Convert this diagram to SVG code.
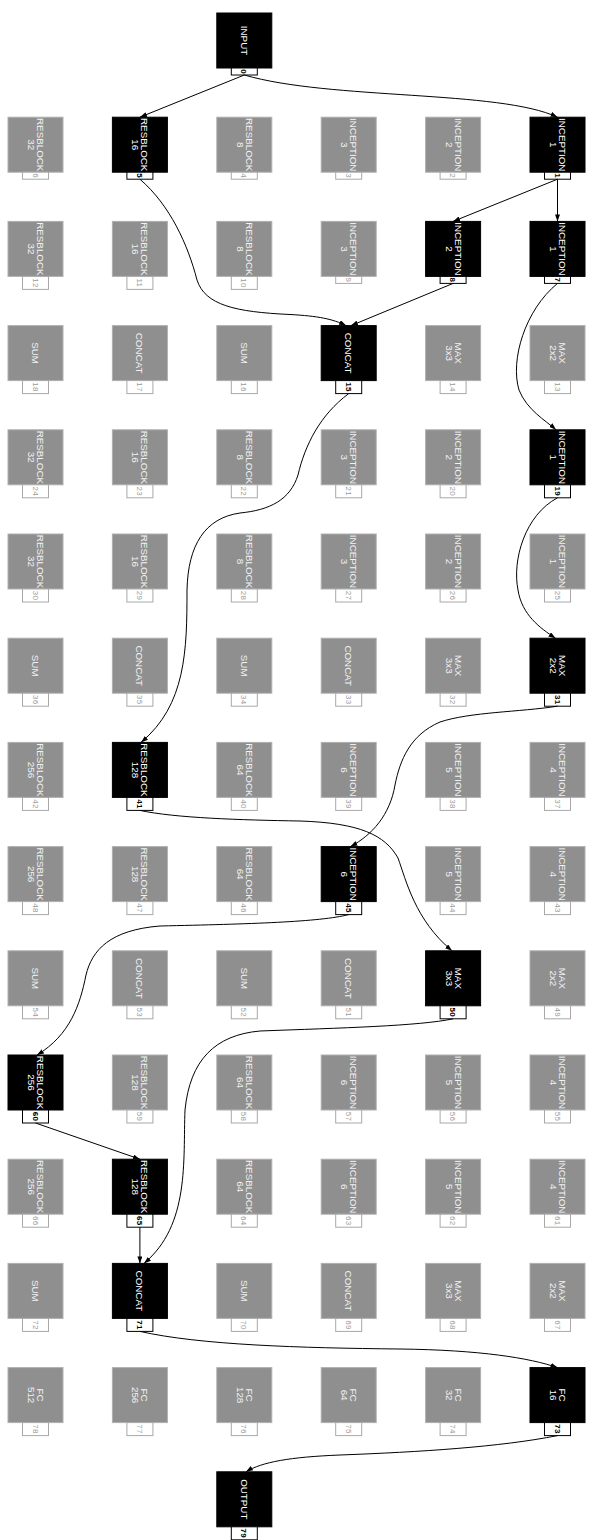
<svg xmlns="http://www.w3.org/2000/svg" width="589" height="1540" viewBox="0 0 589 1540">
<style>
.g .b{fill:#8f8f8f;stroke:#b0b0b0;stroke-width:1}
.k .b{fill:#000;stroke:#000;stroke-width:1}
.l{fill:#fff;stroke-width:1}
.g .l{stroke:#a8a8a8}
.k .l{stroke:#000}
.t{font-family:"Liberation Sans",Arial,sans-serif;font-size:9.8px;fill:#fff;text-anchor:middle}
.g .t{fill:#f2f2f2}
.n{font-family:"Liberation Sans",Arial,sans-serif;font-size:8px;text-anchor:middle;letter-spacing:0.3px}
.g .n{fill:#9a9a9a}
.k .n{fill:#000;font-weight:bold}
.e path{fill:none;stroke:#000;stroke-width:1;marker-end:url(#a)}
</style>
<defs>
<marker id="a" markerWidth="7" markerHeight="5" refX="7" refY="2.5" orient="auto" markerUnits="userSpaceOnUse"><path d="M0,0 L7,2.5 L0,5 z" fill="#000"/></marker>
</defs>
<rect width="589" height="1540" fill="#fff"/>

<!-- row 0 -->
<g id="n0" class="k" transform="translate(216.8,13)"><rect class="b" width="55" height="55"/><text class="t" transform="translate(27.5,27.5) rotate(90)" y="3.5">INPUT</text><rect class="l" x="14.5" y="55" width="26" height="7"/><text class="n" transform="translate(27.5,58.5) rotate(90)" y="2.8">0</text></g>

<!-- row 1 -->
<g id="n6" class="g" transform="translate(8,117.2)"><rect class="b" width="55" height="55"/><text class="t" transform="translate(27.5,27.5) rotate(90)"><tspan x="0" y="-1.5">RESBLOCK</tspan><tspan x="0" y="7.5">32</tspan></text><rect class="l" x="14.5" y="55" width="26" height="7"/><text class="n" transform="translate(27.5,58.5) rotate(90)" y="2.8">6</text></g>
<g id="n5" class="k" transform="translate(112.4,117.2)"><rect class="b" width="55" height="55"/><text class="t" transform="translate(27.5,27.5) rotate(90)"><tspan x="0" y="-1.5">RESBLOCK</tspan><tspan x="0" y="7.5">16</tspan></text><rect class="l" x="14.5" y="55" width="26" height="7"/><text class="n" transform="translate(27.5,58.5) rotate(90)" y="2.8">5</text></g>
<g id="n4" class="g" transform="translate(216.8,117.2)"><rect class="b" width="55" height="55"/><text class="t" transform="translate(27.5,27.5) rotate(90)"><tspan x="0" y="-1.5">RESBLOCK</tspan><tspan x="0" y="7.5">8</tspan></text><rect class="l" x="14.5" y="55" width="26" height="7"/><text class="n" transform="translate(27.5,58.5) rotate(90)" y="2.8">4</text></g>
<g id="n3" class="g" transform="translate(321.2,117.2)"><rect class="b" width="55" height="55"/><text class="t" transform="translate(27.5,27.5) rotate(90)"><tspan x="0" y="-1.5">INCEPTION</tspan><tspan x="0" y="7.5">3</tspan></text><rect class="l" x="14.5" y="55" width="26" height="7"/><text class="n" transform="translate(27.5,58.5) rotate(90)" y="2.8">3</text></g>
<g id="n2" class="g" transform="translate(425.6,117.2)"><rect class="b" width="55" height="55"/><text class="t" transform="translate(27.5,27.5) rotate(90)"><tspan x="0" y="-1.5">INCEPTION</tspan><tspan x="0" y="7.5">2</tspan></text><rect class="l" x="14.5" y="55" width="26" height="7"/><text class="n" transform="translate(27.5,58.5) rotate(90)" y="2.8">2</text></g>
<g id="n1" class="k" transform="translate(530,117.2)"><rect class="b" width="55" height="55"/><text class="t" transform="translate(27.5,27.5) rotate(90)"><tspan x="0" y="-1.5">INCEPTION</tspan><tspan x="0" y="7.5">1</tspan></text><rect class="l" x="14.5" y="55" width="26" height="7"/><text class="n" transform="translate(27.5,58.5) rotate(90)" y="2.8">1</text></g>

<!-- row 2 -->
<g id="n12" class="g" transform="translate(8,221.4)"><rect class="b" width="55" height="55"/><text class="t" transform="translate(27.5,27.5) rotate(90)"><tspan x="0" y="-1.5">RESBLOCK</tspan><tspan x="0" y="7.5">32</tspan></text><rect class="l" x="14.5" y="55" width="26" height="13"/><text class="n" transform="translate(27.5,61.5) rotate(90)" y="2.8">12</text></g>
<g id="n11" class="g" transform="translate(112.4,221.4)"><rect class="b" width="55" height="55"/><text class="t" transform="translate(27.5,27.5) rotate(90)"><tspan x="0" y="-1.5">RESBLOCK</tspan><tspan x="0" y="7.5">16</tspan></text><rect class="l" x="14.5" y="55" width="26" height="13"/><text class="n" transform="translate(27.5,61.5) rotate(90)" y="2.8">11</text></g>
<g id="n10" class="g" transform="translate(216.8,221.4)"><rect class="b" width="55" height="55"/><text class="t" transform="translate(27.5,27.5) rotate(90)"><tspan x="0" y="-1.5">RESBLOCK</tspan><tspan x="0" y="7.5">8</tspan></text><rect class="l" x="14.5" y="55" width="26" height="13"/><text class="n" transform="translate(27.5,61.5) rotate(90)" y="2.8">10</text></g>
<g id="n9" class="g" transform="translate(321.2,221.4)"><rect class="b" width="55" height="55"/><text class="t" transform="translate(27.5,27.5) rotate(90)"><tspan x="0" y="-1.5">INCEPTION</tspan><tspan x="0" y="7.5">3</tspan></text><rect class="l" x="14.5" y="55" width="26" height="7"/><text class="n" transform="translate(27.5,58.5) rotate(90)" y="2.8">9</text></g>
<g id="n8" class="k" transform="translate(425.6,221.4)"><rect class="b" width="55" height="55"/><text class="t" transform="translate(27.5,27.5) rotate(90)"><tspan x="0" y="-1.5">INCEPTION</tspan><tspan x="0" y="7.5">2</tspan></text><rect class="l" x="14.5" y="55" width="26" height="7"/><text class="n" transform="translate(27.5,58.5) rotate(90)" y="2.8">8</text></g>
<g id="n7" class="k" transform="translate(530,221.4)"><rect class="b" width="55" height="55"/><text class="t" transform="translate(27.5,27.5) rotate(90)"><tspan x="0" y="-1.5">INCEPTION</tspan><tspan x="0" y="7.5">1</tspan></text><rect class="l" x="14.5" y="55" width="26" height="7"/><text class="n" transform="translate(27.5,58.5) rotate(90)" y="2.8">7</text></g>

<!-- row 3 -->
<g id="n18" class="g" transform="translate(8,325.6)"><rect class="b" width="55" height="55"/><text class="t" transform="translate(27.5,27.5) rotate(90)" y="3.5">SUM</text><rect class="l" x="14.5" y="55" width="26" height="13"/><text class="n" transform="translate(27.5,61.5) rotate(90)" y="2.8">18</text></g>
<g id="n17" class="g" transform="translate(112.4,325.6)"><rect class="b" width="55" height="55"/><text class="t" transform="translate(27.5,27.5) rotate(90)" y="3.5">CONCAT</text><rect class="l" x="14.5" y="55" width="26" height="13"/><text class="n" transform="translate(27.5,61.5) rotate(90)" y="2.8">17</text></g>
<g id="n16" class="g" transform="translate(216.8,325.6)"><rect class="b" width="55" height="55"/><text class="t" transform="translate(27.5,27.5) rotate(90)" y="3.5">SUM</text><rect class="l" x="14.5" y="55" width="26" height="13"/><text class="n" transform="translate(27.5,61.5) rotate(90)" y="2.8">16</text></g>
<g id="n15" class="k" transform="translate(321.2,325.6)"><rect class="b" width="55" height="55"/><text class="t" transform="translate(27.5,27.5) rotate(90)" y="3.5">CONCAT</text><rect class="l" x="14.5" y="55" width="26" height="13"/><text class="n" transform="translate(27.5,61.5) rotate(90)" y="2.8">15</text></g>
<g id="n14" class="g" transform="translate(425.6,325.6)"><rect class="b" width="55" height="55"/><text class="t" transform="translate(27.5,27.5) rotate(90)"><tspan x="0" y="-1.5">MAX</tspan><tspan x="0" y="7.5">3x3</tspan></text><rect class="l" x="14.5" y="55" width="26" height="13"/><text class="n" transform="translate(27.5,61.5) rotate(90)" y="2.8">14</text></g>
<g id="n13" class="g" transform="translate(530,325.6)"><rect class="b" width="55" height="55"/><text class="t" transform="translate(27.5,27.5) rotate(90)"><tspan x="0" y="-1.5">MAX</tspan><tspan x="0" y="7.5">2x2</tspan></text><rect class="l" x="14.5" y="55" width="26" height="13"/><text class="n" transform="translate(27.5,61.5) rotate(90)" y="2.8">13</text></g>

<!-- row 4 -->
<g id="n24" class="g" transform="translate(8,429.8)"><rect class="b" width="55" height="55"/><text class="t" transform="translate(27.5,27.5) rotate(90)"><tspan x="0" y="-1.5">RESBLOCK</tspan><tspan x="0" y="7.5">32</tspan></text><rect class="l" x="14.5" y="55" width="26" height="13"/><text class="n" transform="translate(27.5,61.5) rotate(90)" y="2.8">24</text></g>
<g id="n23" class="g" transform="translate(112.4,429.8)"><rect class="b" width="55" height="55"/><text class="t" transform="translate(27.5,27.5) rotate(90)"><tspan x="0" y="-1.5">RESBLOCK</tspan><tspan x="0" y="7.5">16</tspan></text><rect class="l" x="14.5" y="55" width="26" height="13"/><text class="n" transform="translate(27.5,61.5) rotate(90)" y="2.8">23</text></g>
<g id="n22" class="g" transform="translate(216.8,429.8)"><rect class="b" width="55" height="55"/><text class="t" transform="translate(27.5,27.5) rotate(90)"><tspan x="0" y="-1.5">RESBLOCK</tspan><tspan x="0" y="7.5">8</tspan></text><rect class="l" x="14.5" y="55" width="26" height="13"/><text class="n" transform="translate(27.5,61.5) rotate(90)" y="2.8">22</text></g>
<g id="n21" class="g" transform="translate(321.2,429.8)"><rect class="b" width="55" height="55"/><text class="t" transform="translate(27.5,27.5) rotate(90)"><tspan x="0" y="-1.5">INCEPTION</tspan><tspan x="0" y="7.5">3</tspan></text><rect class="l" x="14.5" y="55" width="26" height="13"/><text class="n" transform="translate(27.5,61.5) rotate(90)" y="2.8">21</text></g>
<g id="n20" class="g" transform="translate(425.6,429.8)"><rect class="b" width="55" height="55"/><text class="t" transform="translate(27.5,27.5) rotate(90)"><tspan x="0" y="-1.5">INCEPTION</tspan><tspan x="0" y="7.5">2</tspan></text><rect class="l" x="14.5" y="55" width="26" height="13"/><text class="n" transform="translate(27.5,61.5) rotate(90)" y="2.8">20</text></g>
<g id="n19" class="k" transform="translate(530,429.8)"><rect class="b" width="55" height="55"/><text class="t" transform="translate(27.5,27.5) rotate(90)"><tspan x="0" y="-1.5">INCEPTION</tspan><tspan x="0" y="7.5">1</tspan></text><rect class="l" x="14.5" y="55" width="26" height="13"/><text class="n" transform="translate(27.5,61.5) rotate(90)" y="2.8">19</text></g>

<!-- row 5 -->
<g id="n30" class="g" transform="translate(8,534)"><rect class="b" width="55" height="55"/><text class="t" transform="translate(27.5,27.5) rotate(90)"><tspan x="0" y="-1.5">RESBLOCK</tspan><tspan x="0" y="7.5">32</tspan></text><rect class="l" x="14.5" y="55" width="26" height="13"/><text class="n" transform="translate(27.5,61.5) rotate(90)" y="2.8">30</text></g>
<g id="n29" class="g" transform="translate(112.4,534)"><rect class="b" width="55" height="55"/><text class="t" transform="translate(27.5,27.5) rotate(90)"><tspan x="0" y="-1.5">RESBLOCK</tspan><tspan x="0" y="7.5">16</tspan></text><rect class="l" x="14.5" y="55" width="26" height="13"/><text class="n" transform="translate(27.5,61.5) rotate(90)" y="2.8">29</text></g>
<g id="n28" class="g" transform="translate(216.8,534)"><rect class="b" width="55" height="55"/><text class="t" transform="translate(27.5,27.5) rotate(90)"><tspan x="0" y="-1.5">RESBLOCK</tspan><tspan x="0" y="7.5">8</tspan></text><rect class="l" x="14.5" y="55" width="26" height="13"/><text class="n" transform="translate(27.5,61.5) rotate(90)" y="2.8">28</text></g>
<g id="n27" class="g" transform="translate(321.2,534)"><rect class="b" width="55" height="55"/><text class="t" transform="translate(27.5,27.5) rotate(90)"><tspan x="0" y="-1.5">INCEPTION</tspan><tspan x="0" y="7.5">3</tspan></text><rect class="l" x="14.5" y="55" width="26" height="13"/><text class="n" transform="translate(27.5,61.5) rotate(90)" y="2.8">27</text></g>
<g id="n26" class="g" transform="translate(425.6,534)"><rect class="b" width="55" height="55"/><text class="t" transform="translate(27.5,27.5) rotate(90)"><tspan x="0" y="-1.5">INCEPTION</tspan><tspan x="0" y="7.5">2</tspan></text><rect class="l" x="14.5" y="55" width="26" height="13"/><text class="n" transform="translate(27.5,61.5) rotate(90)" y="2.8">26</text></g>
<g id="n25" class="g" transform="translate(530,534)"><rect class="b" width="55" height="55"/><text class="t" transform="translate(27.5,27.5) rotate(90)"><tspan x="0" y="-1.5">INCEPTION</tspan><tspan x="0" y="7.5">1</tspan></text><rect class="l" x="14.5" y="55" width="26" height="13"/><text class="n" transform="translate(27.5,61.5) rotate(90)" y="2.8">25</text></g>

<!-- row 6 -->
<g id="n36" class="g" transform="translate(8,638.2)"><rect class="b" width="55" height="55"/><text class="t" transform="translate(27.5,27.5) rotate(90)" y="3.5">SUM</text><rect class="l" x="14.5" y="55" width="26" height="13"/><text class="n" transform="translate(27.5,61.5) rotate(90)" y="2.8">36</text></g>
<g id="n35" class="g" transform="translate(112.4,638.2)"><rect class="b" width="55" height="55"/><text class="t" transform="translate(27.5,27.5) rotate(90)" y="3.5">CONCAT</text><rect class="l" x="14.5" y="55" width="26" height="13"/><text class="n" transform="translate(27.5,61.5) rotate(90)" y="2.8">35</text></g>
<g id="n34" class="g" transform="translate(216.8,638.2)"><rect class="b" width="55" height="55"/><text class="t" transform="translate(27.5,27.5) rotate(90)" y="3.5">SUM</text><rect class="l" x="14.5" y="55" width="26" height="13"/><text class="n" transform="translate(27.5,61.5) rotate(90)" y="2.8">34</text></g>
<g id="n33" class="g" transform="translate(321.2,638.2)"><rect class="b" width="55" height="55"/><text class="t" transform="translate(27.5,27.5) rotate(90)" y="3.5">CONCAT</text><rect class="l" x="14.5" y="55" width="26" height="13"/><text class="n" transform="translate(27.5,61.5) rotate(90)" y="2.8">33</text></g>
<g id="n32" class="g" transform="translate(425.6,638.2)"><rect class="b" width="55" height="55"/><text class="t" transform="translate(27.5,27.5) rotate(90)"><tspan x="0" y="-1.5">MAX</tspan><tspan x="0" y="7.5">3x3</tspan></text><rect class="l" x="14.5" y="55" width="26" height="13"/><text class="n" transform="translate(27.5,61.5) rotate(90)" y="2.8">32</text></g>
<g id="n31" class="k" transform="translate(530,638.2)"><rect class="b" width="55" height="55"/><text class="t" transform="translate(27.5,27.5) rotate(90)"><tspan x="0" y="-1.5">MAX</tspan><tspan x="0" y="7.5">2x2</tspan></text><rect class="l" x="14.5" y="55" width="26" height="13"/><text class="n" transform="translate(27.5,61.5) rotate(90)" y="2.8">31</text></g>

<!-- row 7 -->
<g id="n42" class="g" transform="translate(8,742.4)"><rect class="b" width="55" height="55"/><text class="t" transform="translate(27.5,27.5) rotate(90)"><tspan x="0" y="-1.5">RESBLOCK</tspan><tspan x="0" y="7.5">256</tspan></text><rect class="l" x="14.5" y="55" width="26" height="13"/><text class="n" transform="translate(27.5,61.5) rotate(90)" y="2.8">42</text></g>
<g id="n41" class="k" transform="translate(112.4,742.4)"><rect class="b" width="55" height="55"/><text class="t" transform="translate(27.5,27.5) rotate(90)"><tspan x="0" y="-1.5">RESBLOCK</tspan><tspan x="0" y="7.5">128</tspan></text><rect class="l" x="14.5" y="55" width="26" height="13"/><text class="n" transform="translate(27.5,61.5) rotate(90)" y="2.8">41</text></g>
<g id="n40" class="g" transform="translate(216.8,742.4)"><rect class="b" width="55" height="55"/><text class="t" transform="translate(27.5,27.5) rotate(90)"><tspan x="0" y="-1.5">RESBLOCK</tspan><tspan x="0" y="7.5">64</tspan></text><rect class="l" x="14.5" y="55" width="26" height="13"/><text class="n" transform="translate(27.5,61.5) rotate(90)" y="2.8">40</text></g>
<g id="n39" class="g" transform="translate(321.2,742.4)"><rect class="b" width="55" height="55"/><text class="t" transform="translate(27.5,27.5) rotate(90)"><tspan x="0" y="-1.5">INCEPTION</tspan><tspan x="0" y="7.5">6</tspan></text><rect class="l" x="14.5" y="55" width="26" height="13"/><text class="n" transform="translate(27.5,61.5) rotate(90)" y="2.8">39</text></g>
<g id="n38" class="g" transform="translate(425.6,742.4)"><rect class="b" width="55" height="55"/><text class="t" transform="translate(27.5,27.5) rotate(90)"><tspan x="0" y="-1.5">INCEPTION</tspan><tspan x="0" y="7.5">5</tspan></text><rect class="l" x="14.5" y="55" width="26" height="13"/><text class="n" transform="translate(27.5,61.5) rotate(90)" y="2.8">38</text></g>
<g id="n37" class="g" transform="translate(530,742.4)"><rect class="b" width="55" height="55"/><text class="t" transform="translate(27.5,27.5) rotate(90)"><tspan x="0" y="-1.5">INCEPTION</tspan><tspan x="0" y="7.5">4</tspan></text><rect class="l" x="14.5" y="55" width="26" height="13"/><text class="n" transform="translate(27.5,61.5) rotate(90)" y="2.8">37</text></g>

<!-- row 8 -->
<g id="n48" class="g" transform="translate(8,846.6)"><rect class="b" width="55" height="55"/><text class="t" transform="translate(27.5,27.5) rotate(90)"><tspan x="0" y="-1.5">RESBLOCK</tspan><tspan x="0" y="7.5">256</tspan></text><rect class="l" x="14.5" y="55" width="26" height="13"/><text class="n" transform="translate(27.5,61.5) rotate(90)" y="2.8">48</text></g>
<g id="n47" class="g" transform="translate(112.4,846.6)"><rect class="b" width="55" height="55"/><text class="t" transform="translate(27.5,27.5) rotate(90)"><tspan x="0" y="-1.5">RESBLOCK</tspan><tspan x="0" y="7.5">128</tspan></text><rect class="l" x="14.5" y="55" width="26" height="13"/><text class="n" transform="translate(27.5,61.5) rotate(90)" y="2.8">47</text></g>
<g id="n46" class="g" transform="translate(216.8,846.6)"><rect class="b" width="55" height="55"/><text class="t" transform="translate(27.5,27.5) rotate(90)"><tspan x="0" y="-1.5">RESBLOCK</tspan><tspan x="0" y="7.5">64</tspan></text><rect class="l" x="14.5" y="55" width="26" height="13"/><text class="n" transform="translate(27.5,61.5) rotate(90)" y="2.8">46</text></g>
<g id="n45" class="k" transform="translate(321.2,846.6)"><rect class="b" width="55" height="55"/><text class="t" transform="translate(27.5,27.5) rotate(90)"><tspan x="0" y="-1.5">INCEPTION</tspan><tspan x="0" y="7.5">6</tspan></text><rect class="l" x="14.5" y="55" width="26" height="13"/><text class="n" transform="translate(27.5,61.5) rotate(90)" y="2.8">45</text></g>
<g id="n44" class="g" transform="translate(425.6,846.6)"><rect class="b" width="55" height="55"/><text class="t" transform="translate(27.5,27.5) rotate(90)"><tspan x="0" y="-1.5">INCEPTION</tspan><tspan x="0" y="7.5">5</tspan></text><rect class="l" x="14.5" y="55" width="26" height="13"/><text class="n" transform="translate(27.5,61.5) rotate(90)" y="2.8">44</text></g>
<g id="n43" class="g" transform="translate(530,846.6)"><rect class="b" width="55" height="55"/><text class="t" transform="translate(27.5,27.5) rotate(90)"><tspan x="0" y="-1.5">INCEPTION</tspan><tspan x="0" y="7.5">4</tspan></text><rect class="l" x="14.5" y="55" width="26" height="13"/><text class="n" transform="translate(27.5,61.5) rotate(90)" y="2.8">43</text></g>

<!-- row 9 -->
<g id="n54" class="g" transform="translate(8,950.8)"><rect class="b" width="55" height="55"/><text class="t" transform="translate(27.5,27.5) rotate(90)" y="3.5">SUM</text><rect class="l" x="14.5" y="55" width="26" height="13"/><text class="n" transform="translate(27.5,61.5) rotate(90)" y="2.8">54</text></g>
<g id="n53" class="g" transform="translate(112.4,950.8)"><rect class="b" width="55" height="55"/><text class="t" transform="translate(27.5,27.5) rotate(90)" y="3.5">CONCAT</text><rect class="l" x="14.5" y="55" width="26" height="13"/><text class="n" transform="translate(27.5,61.5) rotate(90)" y="2.8">53</text></g>
<g id="n52" class="g" transform="translate(216.8,950.8)"><rect class="b" width="55" height="55"/><text class="t" transform="translate(27.5,27.5) rotate(90)" y="3.5">SUM</text><rect class="l" x="14.5" y="55" width="26" height="13"/><text class="n" transform="translate(27.5,61.5) rotate(90)" y="2.8">52</text></g>
<g id="n51" class="g" transform="translate(321.2,950.8)"><rect class="b" width="55" height="55"/><text class="t" transform="translate(27.5,27.5) rotate(90)" y="3.5">CONCAT</text><rect class="l" x="14.5" y="55" width="26" height="13"/><text class="n" transform="translate(27.5,61.5) rotate(90)" y="2.8">51</text></g>
<g id="n50" class="k" transform="translate(425.6,950.8)"><rect class="b" width="55" height="55"/><text class="t" transform="translate(27.5,27.5) rotate(90)"><tspan x="0" y="-1.5">MAX</tspan><tspan x="0" y="7.5">3x3</tspan></text><rect class="l" x="14.5" y="55" width="26" height="13"/><text class="n" transform="translate(27.5,61.5) rotate(90)" y="2.8">50</text></g>
<g id="n49" class="g" transform="translate(530,950.8)"><rect class="b" width="55" height="55"/><text class="t" transform="translate(27.5,27.5) rotate(90)"><tspan x="0" y="-1.5">MAX</tspan><tspan x="0" y="7.5">2x2</tspan></text><rect class="l" x="14.5" y="55" width="26" height="13"/><text class="n" transform="translate(27.5,61.5) rotate(90)" y="2.8">49</text></g>

<!-- row 10 -->
<g id="n60" class="k" transform="translate(8,1055)"><rect class="b" width="55" height="55"/><text class="t" transform="translate(27.5,27.5) rotate(90)"><tspan x="0" y="-1.5">RESBLOCK</tspan><tspan x="0" y="7.5">256</tspan></text><rect class="l" x="14.5" y="55" width="26" height="13"/><text class="n" transform="translate(27.5,61.5) rotate(90)" y="2.8">60</text></g>
<g id="n59" class="g" transform="translate(112.4,1055)"><rect class="b" width="55" height="55"/><text class="t" transform="translate(27.5,27.5) rotate(90)"><tspan x="0" y="-1.5">RESBLOCK</tspan><tspan x="0" y="7.5">128</tspan></text><rect class="l" x="14.5" y="55" width="26" height="13"/><text class="n" transform="translate(27.5,61.5) rotate(90)" y="2.8">59</text></g>
<g id="n58" class="g" transform="translate(216.8,1055)"><rect class="b" width="55" height="55"/><text class="t" transform="translate(27.5,27.5) rotate(90)"><tspan x="0" y="-1.5">RESBLOCK</tspan><tspan x="0" y="7.5">64</tspan></text><rect class="l" x="14.5" y="55" width="26" height="13"/><text class="n" transform="translate(27.5,61.5) rotate(90)" y="2.8">58</text></g>
<g id="n57" class="g" transform="translate(321.2,1055)"><rect class="b" width="55" height="55"/><text class="t" transform="translate(27.5,27.5) rotate(90)"><tspan x="0" y="-1.5">INCEPTION</tspan><tspan x="0" y="7.5">6</tspan></text><rect class="l" x="14.5" y="55" width="26" height="13"/><text class="n" transform="translate(27.5,61.5) rotate(90)" y="2.8">57</text></g>
<g id="n56" class="g" transform="translate(425.6,1055)"><rect class="b" width="55" height="55"/><text class="t" transform="translate(27.5,27.5) rotate(90)"><tspan x="0" y="-1.5">INCEPTION</tspan><tspan x="0" y="7.5">5</tspan></text><rect class="l" x="14.5" y="55" width="26" height="13"/><text class="n" transform="translate(27.5,61.5) rotate(90)" y="2.8">56</text></g>
<g id="n55" class="g" transform="translate(530,1055)"><rect class="b" width="55" height="55"/><text class="t" transform="translate(27.5,27.5) rotate(90)"><tspan x="0" y="-1.5">INCEPTION</tspan><tspan x="0" y="7.5">4</tspan></text><rect class="l" x="14.5" y="55" width="26" height="13"/><text class="n" transform="translate(27.5,61.5) rotate(90)" y="2.8">55</text></g>

<!-- row 11 -->
<g id="n66" class="g" transform="translate(8,1159.2)"><rect class="b" width="55" height="55"/><text class="t" transform="translate(27.5,27.5) rotate(90)"><tspan x="0" y="-1.5">RESBLOCK</tspan><tspan x="0" y="7.5">256</tspan></text><rect class="l" x="14.5" y="55" width="26" height="13"/><text class="n" transform="translate(27.5,61.5) rotate(90)" y="2.8">66</text></g>
<g id="n65" class="k" transform="translate(112.4,1159.2)"><rect class="b" width="55" height="55"/><text class="t" transform="translate(27.5,27.5) rotate(90)"><tspan x="0" y="-1.5">RESBLOCK</tspan><tspan x="0" y="7.5">128</tspan></text><rect class="l" x="14.5" y="55" width="26" height="13"/><text class="n" transform="translate(27.5,61.5) rotate(90)" y="2.8">65</text></g>
<g id="n64" class="g" transform="translate(216.8,1159.2)"><rect class="b" width="55" height="55"/><text class="t" transform="translate(27.5,27.5) rotate(90)"><tspan x="0" y="-1.5">RESBLOCK</tspan><tspan x="0" y="7.5">64</tspan></text><rect class="l" x="14.5" y="55" width="26" height="13"/><text class="n" transform="translate(27.5,61.5) rotate(90)" y="2.8">64</text></g>
<g id="n63" class="g" transform="translate(321.2,1159.2)"><rect class="b" width="55" height="55"/><text class="t" transform="translate(27.5,27.5) rotate(90)"><tspan x="0" y="-1.5">INCEPTION</tspan><tspan x="0" y="7.5">6</tspan></text><rect class="l" x="14.5" y="55" width="26" height="13"/><text class="n" transform="translate(27.5,61.5) rotate(90)" y="2.8">63</text></g>
<g id="n62" class="g" transform="translate(425.6,1159.2)"><rect class="b" width="55" height="55"/><text class="t" transform="translate(27.5,27.5) rotate(90)"><tspan x="0" y="-1.5">INCEPTION</tspan><tspan x="0" y="7.5">5</tspan></text><rect class="l" x="14.5" y="55" width="26" height="13"/><text class="n" transform="translate(27.5,61.5) rotate(90)" y="2.8">62</text></g>
<g id="n61" class="g" transform="translate(530,1159.2)"><rect class="b" width="55" height="55"/><text class="t" transform="translate(27.5,27.5) rotate(90)"><tspan x="0" y="-1.5">INCEPTION</tspan><tspan x="0" y="7.5">4</tspan></text><rect class="l" x="14.5" y="55" width="26" height="13"/><text class="n" transform="translate(27.5,61.5) rotate(90)" y="2.8">61</text></g>

<!-- row 12 -->
<g id="n72" class="g" transform="translate(8,1263.4)"><rect class="b" width="55" height="55"/><text class="t" transform="translate(27.5,27.5) rotate(90)" y="3.5">SUM</text><rect class="l" x="14.5" y="55" width="26" height="13"/><text class="n" transform="translate(27.5,61.5) rotate(90)" y="2.8">72</text></g>
<g id="n71" class="k" transform="translate(112.4,1263.4)"><rect class="b" width="55" height="55"/><text class="t" transform="translate(27.5,27.5) rotate(90)" y="3.5">CONCAT</text><rect class="l" x="14.5" y="55" width="26" height="13"/><text class="n" transform="translate(27.5,61.5) rotate(90)" y="2.8">71</text></g>
<g id="n70" class="g" transform="translate(216.8,1263.4)"><rect class="b" width="55" height="55"/><text class="t" transform="translate(27.5,27.5) rotate(90)" y="3.5">SUM</text><rect class="l" x="14.5" y="55" width="26" height="13"/><text class="n" transform="translate(27.5,61.5) rotate(90)" y="2.8">70</text></g>
<g id="n69" class="g" transform="translate(321.2,1263.4)"><rect class="b" width="55" height="55"/><text class="t" transform="translate(27.5,27.5) rotate(90)" y="3.5">CONCAT</text><rect class="l" x="14.5" y="55" width="26" height="13"/><text class="n" transform="translate(27.5,61.5) rotate(90)" y="2.8">69</text></g>
<g id="n68" class="g" transform="translate(425.6,1263.4)"><rect class="b" width="55" height="55"/><text class="t" transform="translate(27.5,27.5) rotate(90)"><tspan x="0" y="-1.5">MAX</tspan><tspan x="0" y="7.5">3x3</tspan></text><rect class="l" x="14.5" y="55" width="26" height="13"/><text class="n" transform="translate(27.5,61.5) rotate(90)" y="2.8">68</text></g>
<g id="n67" class="g" transform="translate(530,1263.4)"><rect class="b" width="55" height="55"/><text class="t" transform="translate(27.5,27.5) rotate(90)"><tspan x="0" y="-1.5">MAX</tspan><tspan x="0" y="7.5">2x2</tspan></text><rect class="l" x="14.5" y="55" width="26" height="13"/><text class="n" transform="translate(27.5,61.5) rotate(90)" y="2.8">67</text></g>

<!-- row 13 -->
<g id="n78" class="g" transform="translate(8,1367.6)"><rect class="b" width="55" height="55"/><text class="t" transform="translate(27.5,27.5) rotate(90)"><tspan x="0" y="-1.5">FC</tspan><tspan x="0" y="7.5">512</tspan></text><rect class="l" x="14.5" y="55" width="26" height="13"/><text class="n" transform="translate(27.5,61.5) rotate(90)" y="2.8">78</text></g>
<g id="n77" class="g" transform="translate(112.4,1367.6)"><rect class="b" width="55" height="55"/><text class="t" transform="translate(27.5,27.5) rotate(90)"><tspan x="0" y="-1.5">FC</tspan><tspan x="0" y="7.5">256</tspan></text><rect class="l" x="14.5" y="55" width="26" height="13"/><text class="n" transform="translate(27.5,61.5) rotate(90)" y="2.8">77</text></g>
<g id="n76" class="g" transform="translate(216.8,1367.6)"><rect class="b" width="55" height="55"/><text class="t" transform="translate(27.5,27.5) rotate(90)"><tspan x="0" y="-1.5">FC</tspan><tspan x="0" y="7.5">128</tspan></text><rect class="l" x="14.5" y="55" width="26" height="13"/><text class="n" transform="translate(27.5,61.5) rotate(90)" y="2.8">76</text></g>
<g id="n75" class="g" transform="translate(321.2,1367.6)"><rect class="b" width="55" height="55"/><text class="t" transform="translate(27.5,27.5) rotate(90)"><tspan x="0" y="-1.5">FC</tspan><tspan x="0" y="7.5">64</tspan></text><rect class="l" x="14.5" y="55" width="26" height="13"/><text class="n" transform="translate(27.5,61.5) rotate(90)" y="2.8">75</text></g>
<g id="n74" class="g" transform="translate(425.6,1367.6)"><rect class="b" width="55" height="55"/><text class="t" transform="translate(27.5,27.5) rotate(90)"><tspan x="0" y="-1.5">FC</tspan><tspan x="0" y="7.5">32</tspan></text><rect class="l" x="14.5" y="55" width="26" height="13"/><text class="n" transform="translate(27.5,61.5) rotate(90)" y="2.8">74</text></g>
<g id="n73" class="k" transform="translate(530,1367.6)"><rect class="b" width="55" height="55"/><text class="t" transform="translate(27.5,27.5) rotate(90)"><tspan x="0" y="-1.5">FC</tspan><tspan x="0" y="7.5">16</tspan></text><rect class="l" x="14.5" y="55" width="26" height="13"/><text class="n" transform="translate(27.5,61.5) rotate(90)" y="2.8">73</text></g>

<!-- row 14 -->
<g id="n79" class="k" transform="translate(216.8,1471.8)"><rect class="b" width="55" height="55"/><text class="t" transform="translate(27.5,27.5) rotate(90)" y="3.5">OUTPUT</text><rect class="l" x="14.5" y="55" width="26" height="13"/><text class="n" transform="translate(27.5,61.5) rotate(90)" y="2.8">79</text></g>

<g id="edges" class="e">
<path d="M244.3,75 L139.9,117.2"/>
<path d="M244.3,75 C330,100 500,90 557.5,117.2"/>
<path d="M557.5,179.2 L453.1,221.4"/>
<path d="M557.5,179.2 L557.5,221.4"/>
<path d="M139.9,179.2 C170,205 188,245 197,280 C205,305 235,312 290,314.5 C318,316 333,319 346,325.6"/>
<path d="M453.1,283.4 L351,325.6"/>
<path d="M557.5,283.4 C525,310 510,360 519,390 C527,410 545,420 556,429.8"/>
<path d="M557.5,497.8 C525,515 512,560 518,590 C522,615 540,628 555.5,638.2"/>
<path d="M348.7,393.6 C320,415 305,445 298,475 C290,500 270,510 240,513 C205,518 188,545 187,590 C187,650 186,705 141,742.4"/>
<path d="M557.5,706.2 C520,712 470,712 440,722 C410,735 400,760 395,785 C390,815 372,835 350.5,846.6"/>
<path d="M139.9,810.4 C175,818 240,820 300,821 C360,823 385,835 398,858 C406,880 415,920 452,950.8"/>
<path d="M348.7,914.6 C320,922 250,924 160,926 C110,930 92,950 86,975 C80,1005 70,1035 37,1055"/>
<path d="M453.1,1018.8 C420,1026 340,1028 260,1031 C215,1035 190,1060 185,1110 C183,1160 190,1225 144,1263.4"/>
<path d="M35.5,1123 L139.9,1159.2"/>
<path d="M139.9,1227.2 L139.9,1263.4"/>
<path d="M139.9,1331.4 C200,1345 300,1348 400,1349 C480,1350 530,1358 557.5,1367.6"/>
<path d="M557.5,1435.6 C500,1447 420,1452 340,1455 C290,1457 262,1462 246,1471.8"/>
</g>
</svg>
